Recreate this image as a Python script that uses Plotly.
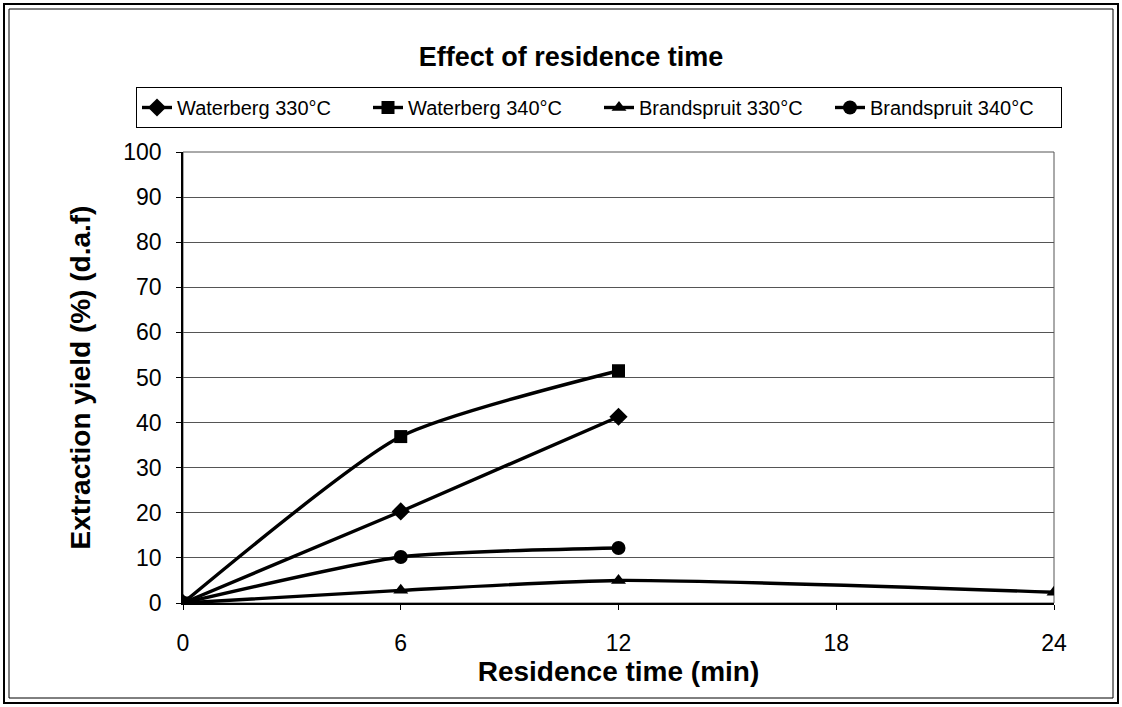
import plotly.graph_objects as go

# Residence time (min) and extraction yields (%, d.a.f.)
time_wb = [0, 6, 12]
waterberg_330 = [0, 20.3, 41.3]
waterberg_340 = [0, 36.9, 51.5]

time_bs330 = [0, 6, 12, 24]
brandspruit_330 = [0, 2.8, 5.0, 2.4]

time_bs340 = [0, 6, 12]
brandspruit_340 = [0, 10.2, 12.2]

series_names = ["Waterberg 330°C", "Waterberg 340°C", "Brandspruit 330°C", "Brandspruit 340°C"]
x_ticks = [0, 6, 12, 18, 24]
y_ticks = list(range(0, 101, 10))

FONT = "Liberation Sans, Arial, sans-serif"
W, H = 1122, 707
ML, MR, MT, MB = 183, 68, 152, 104

fig = go.Figure()

def add_series(x, y, name, symbol, size):
    fig.add_trace(go.Scatter(
        x=x, y=y, name=name, mode="lines+markers",
        line=dict(color="black", width=3.4, shape="spline", smoothing=0.6),
        marker=dict(symbol=symbol, size=size, color="black"),
    ))

add_series(time_wb, waterberg_330, series_names[0], "diamond", 14)
add_series(time_wb, waterberg_340, series_names[1], "square", 13)
add_series(time_bs330, brandspruit_330, series_names[2], "triangle-up", 13)
add_series(time_bs340, brandspruit_340, series_names[3], "circle", 14)

# helpers to convert page pixels to paper coordinates for decorations
pw, ph = W - ML - MR, H - MT - MB
def px(x):
    return (x - ML) / pw
def py(y):
    return (H - MB - y) / ph

shapes = [
    # plot area frame
    dict(type="rect", xref="paper", yref="paper", x0=0, y0=0, x1=1, y1=1,
         line=dict(color="#555555", width=1), layer="below"),
    # double outer frame
    dict(type="rect", xref="paper", yref="paper", x0=px(4), y0=py(4), x1=px(1118), y1=py(703),
         line=dict(color="black", width=2)),
    dict(type="rect", xref="paper", yref="paper", x0=px(9), y0=py(9), x1=px(1113), y1=py(698),
         line=dict(color="black", width=1)),
]

fig.update_layout(
    width=W, height=H,
    margin=dict(l=ML, r=MR, t=MT, b=MB),
    paper_bgcolor="white", plot_bgcolor="white",
    font=dict(family=FONT, color="black", size=22),
    title=dict(text="<b>Effect of residence time</b>", x=571 / W, xref="container",
               y=1 - 57 / H, yref="container", xanchor="center", yanchor="middle",
               font=dict(size=27, family=FONT)),
    showlegend=True,
    legend=dict(orientation="h", xref="paper", yref="paper",
                x=px(136), y=py(87), xanchor="left", yanchor="top",
                bordercolor="black", borderwidth=1, bgcolor="white",
                font=dict(size=20, family=FONT),
                tracegroupgap=0, entrywidth=186),
    shapes=shapes,
    xaxis=dict(
        range=[0, 24], tickvals=x_ticks, ticktext=[str(v) for v in x_ticks],
        showgrid=False, zeroline=False,
        showline=True, linecolor="black", linewidth=1.5,
        ticks="outside", ticklen=5, tickcolor="black",
        tickfont=dict(size=23), ticklabelstandoff=14,
        title=dict(text="<b>Residence time (min)</b>", font=dict(size=28), standoff=0),
    ),
    yaxis=dict(
        range=[0, 100], tickvals=y_ticks,
        showgrid=True, gridcolor="#555555", gridwidth=1,
        zeroline=False,
        showline=True, linecolor="black", linewidth=1.5,
        ticks="outside", ticklen=5, tickcolor="black",
        tickfont=dict(size=23), ticklabelstandoff=10,
        title=dict(text="<b>Extraction yield (%) (d.a.f)</b>", font=dict(size=28), standoff=24),
    ),
)

fig.write_html("out.html")
